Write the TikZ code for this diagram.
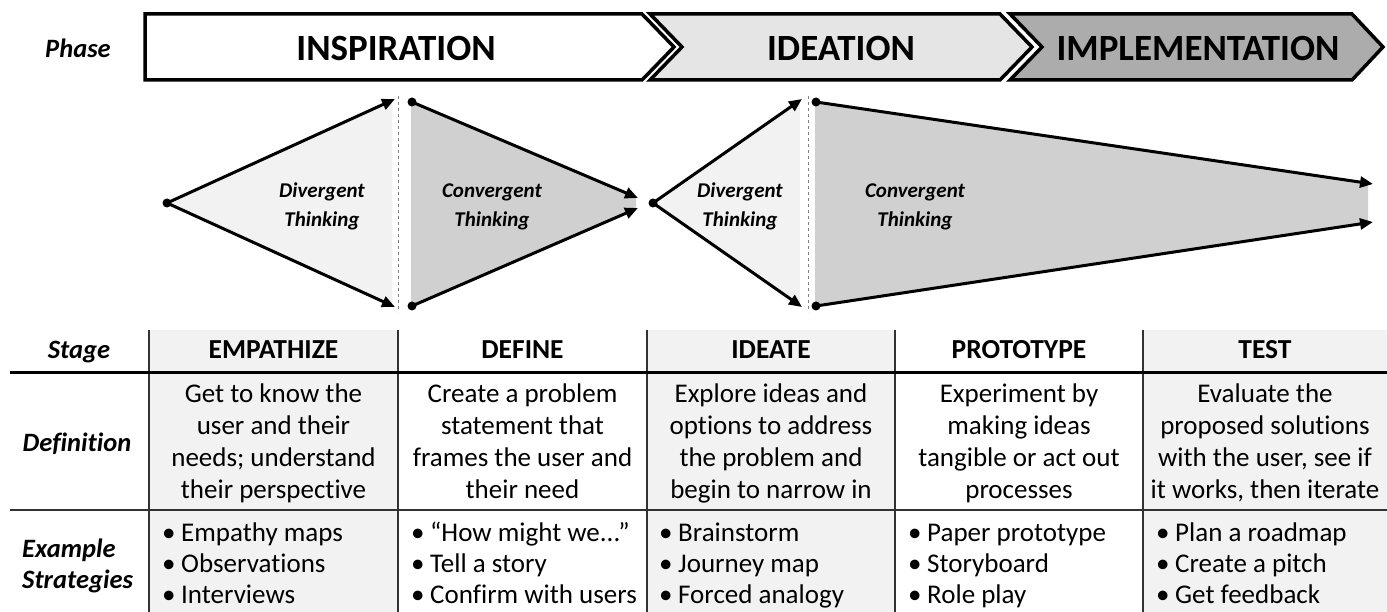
\documentclass[tikz,border=0pt]{standalone}
\usepackage{fontspec}
\setmainfont{Carlito}[Ligatures=NoCommon]
\usetikzlibrary{arrows.meta}

\definecolor{phasetwo}{RGB}{229,229,229}
\definecolor{phasethree}{RGB}{172,172,172}
\definecolor{divfill}{RGB}{242,242,242}
\definecolor{convfill}{RGB}{208,208,208}
\definecolor{colshade}{RGB}{242,242,242}
\definecolor{rulegray}{RGB}{50,50,50}

\newcommand{\stratbullet}{\makebox[19pt][l]{\textbullet}}

% multi-line nodes sit on the baseline of their last line
\tikzset{
  phasebox/.style={draw=black,line width=3.5pt,line join=miter},
  phasetext/.style={font=\fontsize{37}{42}\selectfont\bfseries,inner sep=0pt,anchor=base},
  rowlabel/.style={font=\fontsize{26.5}{31}\selectfont\bfseries\itshape,inner sep=0pt},
  headtext/.style={font=\fontsize{27.5}{32}\selectfont\bfseries,inner sep=0pt,anchor=base},
  deftext/.style={font=\fontsize{27}{32}\selectfont,align=center,inner sep=0pt,anchor=base},
  listtext/.style={font=\fontsize{27}{31}\selectfont,align=left,inner sep=0pt,anchor=base west},
  thinktext/.style={font=\fontsize{21}{29}\selectfont\bfseries\itshape,align=center,inner sep=0pt,anchor=base},
  flow/.style={line width=3pt,-{Triangle[length=13pt,width=11pt]}},
  dot/.style={circle,fill=black,inner sep=0pt,minimum size=9pt},
  divider/.style={gray,line width=1pt,dashed},
  tablerule/.style={rulegray,line width=1.5pt},
}

\begin{document}
\begin{tikzpicture}[x=1pt,y=-1pt]
\useasboundingbox (0,0) rectangle (1387,612);

% phase chevrons
\draw[phasebox,fill=white] (145,14) -- (642,14) -- (674,47) -- (642,80) -- (145,80) -- cycle;
\draw[phasebox,fill=phasetwo] (650,14) -- (1000,14) -- (1032,47) -- (1000,80) -- (650,80) -- (682,47) -- cycle;
\draw[phasebox,fill=phasethree] (1010,14) -- (1352,14) -- (1383,47) -- (1352,80) -- (1010,80) -- (1042,47) -- cycle;
\node[rowlabel,anchor=base] (phase) at (78,58) {Phase};
\node[phasetext] (insp) at (396,61) {INSPIRATION};
\node[phasetext] (idea) at (841,61) {IDEATION};
\node[phasetext] (impl) at (1198,61) {IMPLEMENTATION};

% first diamond
\fill[divfill] (167,203) -- (392,100) -- (392,306) -- cycle;
\fill[convfill] (411,102) -- (636,197) -- (636,209) -- (411,306) -- cycle;
\draw[divider] (398,96) -- (398,312);
\node[dot] (dA) at (167,203) {};
\coordinate (dAup) at (395,99);
\coordinate (dAdn) at (395,307);
\draw[flow] (dA.center) -- (dAup);
\draw[flow] (dA.center) -- (dAdn);
\node[dot] (cAup) at (412,102) {};
\node[dot] (cAdn) at (412,306) {};
\coordinate (cAtop) at (638,198);
\coordinate (cAbot) at (638,208);
\draw[flow] (cAup.center) -- (cAtop);
\draw[flow] (cAdn.center) -- (cAbot);
\node[thinktext] (divA) at (322,227) {Divergent\\Thinking};
\node[thinktext] (convA) at (492,227) {Convergent\\Thinking};

% second diamond, long convergent tail
\fill[divfill] (653,203) -- (800,100) -- (800,306) -- cycle;
\fill[convfill] (815,102) -- (1368,184) -- (1368,222) -- (815,306) -- cycle;
\draw[divider] (808,96) -- (808,312);
\node[dot] (dB) at (653,203) {};
\coordinate (dBup) at (802,99);
\coordinate (dBdn) at (802,307);
\draw[flow] (dB.center) -- (dBup);
\draw[flow] (dB.center) -- (dBdn);
\node[dot] (cBup) at (816,102) {};
\node[dot] (cBdn) at (816,306) {};
\coordinate (cBtop) at (1373,184);
\coordinate (cBbot) at (1373,222);
\draw[flow] (cBup.center) -- (cBtop);
\draw[flow] (cBdn.center) -- (cBbot);
\node[thinktext] (divB) at (740,227) {Divergent\\Thinking};
\node[thinktext] (convB) at (915,227) {Convergent\\Thinking};

% stage table
\fill[colshade] (149,330) rectangle (398,612);
\fill[colshade] (647,330) rectangle (895,612);
\fill[colshade] (1143,330) rectangle (1387,612);
\foreach \x in {149,398,647,895,1143}
  \draw[tablerule] (\x,330) -- (\x,612);
\draw[line width=3pt] (10,372) -- (1387,372);
\draw[rulegray,line width=2pt] (10,510) -- (1387,510);

\node[rowlabel,anchor=base] (stage) at (79,359) {Stage};
\node[rowlabel,anchor=base] (defn) at (77,451) {Definition};
\node[rowlabel,anchor=base west,align=left] (strat) at (22,588) {Example\\Strategies};

\node[headtext] (hemp) at (273.5,359) {EMPATHIZE};
\node[headtext] (hdef) at (522.5,359) {DEFINE};
\node[headtext] (hide) at (771,359) {IDEATE};
\node[headtext] (hpro) at (1019,359) {PROTOTYPE};
\node[headtext] (htst) at (1265,359) {TEST};

\node[deftext] (demp) at (273.5,498) {Get to know the\\user and their\\needs; understand\\their perspective};
\node[deftext] (ddef) at (522.5,498) {Create a problem\\statement that\\frames the user and\\their need};
\node[deftext] (dide) at (771,498) {Explore ideas and\\options to address\\the problem and\\begin to narrow in};
\node[deftext] (dpro) at (1019,498) {Experiment by\\making ideas\\tangible or act out\\processes};
\node[deftext] (dtst) at (1265,498) {Evaluate the\\proposed solutions\\with the user, see if\\it works, then iterate};

\node[listtext] (semp) at (162,603) {\stratbullet Empathy maps\\\stratbullet Observations\\\stratbullet Interviews};
\node[listtext] (sdef) at (411,603) {\stratbullet “How might we...”\\\stratbullet Tell a story\\\stratbullet Confirm with users};
\node[listtext] (side) at (659,603) {\stratbullet Brainstorm\\\stratbullet Journey map\\\stratbullet Forced analogy};
\node[listtext] (spro) at (908,603) {\stratbullet Paper prototype\\\stratbullet Storyboard\\\stratbullet Role play};
\node[listtext] (stst) at (1156,603) {\stratbullet Plan a roadmap\\\stratbullet Create a pitch\\\stratbullet Get feedback};
\end{tikzpicture}
\end{document}
